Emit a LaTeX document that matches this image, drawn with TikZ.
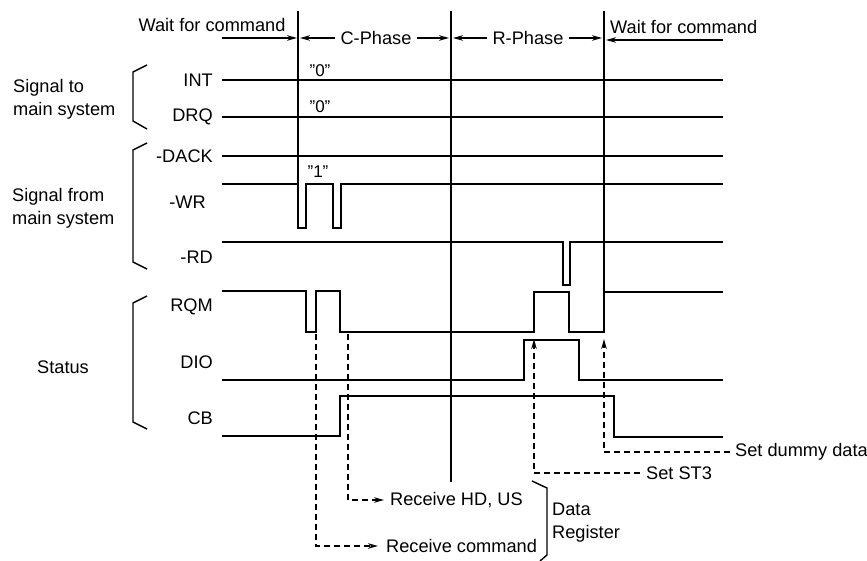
\documentclass[tikz,border=0pt]{standalone}
\usepackage{fontspec}
\setmainfont{Liberation Sans}
\usetikzlibrary{arrows.meta}
\begin{document}
\begin{tikzpicture}[x=1pt,y=-1pt,
  sig/.style={line width=2.8pt, line join=miter},
  vline/.style={line width=1.6pt},
  brk/.style={line width=1.4pt, line join=miter},
  lbl/.style={font=\fontsize{18.2}{23}\selectfont, inner sep=0pt},
  small/.style={font=\fontsize{17}{20}\selectfont, inner sep=0pt},
  tarrow/.style={line width=1.5pt, -{Stealth[length=10pt,width=5.5pt]}},
  darrow/.style={line width=1.4pt, dash pattern=on 6pt off 4pt, -{Stealth[length=10pt,width=5.5pt]}}]
\useasboundingbox (0,0) rectangle (867,561);

% ---- top phase labels
\node[lbl] (wait1) at (212,25) {Wait for command};
\node[lbl] (cph) at (376,38) {C-Phase};
\node[lbl] (rph) at (528,38) {R-Phase};
\node[lbl, anchor=west] (wait2) at (610,27) {Wait for command};
\coordinate (w1s) at (222,38);
\coordinate (v1t) at (298,11);
\coordinate (v2t) at (451,11);
\coordinate (v3t) at (604,11);
\coordinate (w2s) at (723,40);
\draw[tarrow] (w1s) -- (297,38);
\draw[tarrow] (cph.west) ++(-5,0) -- (300,38);
\draw[tarrow] (cph.east) ++(5,0) -- (449,38);
\draw[tarrow] (rph.west) ++(-5,0) -- (453,38);
\draw[tarrow] (rph.east) ++(5,0) -- (602,38);
\draw[tarrow] (w2s) -- (606,40);

% ---- phase boundaries
\draw[vline] (v1t) -- (298,184);
\draw[vline] (v2t) -- (451,482);
\draw[vline] (v3t) -- (604,292);

% ---- group labels and brackets
\node[lbl, align=left, anchor=west] (g1) at (13,99) {Signal to\\main system};
\node[lbl, align=left, anchor=west] (g2) at (12,208) {Signal from\\main system};
\node[lbl, anchor=west] (g3) at (37,367) {Status};
\draw[brk] (147,65) -- (133,72) -- (133,121) -- (147,129);
\draw[brk] (147,143) -- (133,150) -- (133,262) -- (147,269);
\draw[brk] (147,296) -- (133,303) -- (133,422) -- (147,429);

% ---- signal names
\node[lbl, anchor=east] (int) at (213,80) {INT};
\node[lbl, anchor=east] (drq) at (213,117) {DRQ};
\node[lbl, anchor=east] (dack) at (213,156) {-DACK};
\node[lbl, anchor=east] (wr) at (206,202) {-WR};
\node[lbl, anchor=east] (rd) at (213,257) {-RD};
\node[lbl, anchor=east] (rqm) at (213,307) {RQM};
\node[lbl, anchor=east] (dio) at (213,362) {DIO};
\node[lbl, anchor=east] (cb) at (213,418) {CB};

\node[small] (q0a) at (320,71) {”0”};
\node[small] (q0b) at (320,107) {”0”};
\node[small] (q1) at (318,172) {”1”};

% ---- waveforms
\draw[sig] (222,80) -- (723,80);
\draw[sig] (222,117) -- (723,117);
\draw[sig] (222,156) -- (723,156);
\draw[sig] (222,184) -- (298,184) -- (298,228) -- (306,228) -- (306,184) -- (333,184) -- (333,228) -- (341,228) -- (341,184) -- (723,184);
\draw[sig] (222,242) -- (563,242) -- (563,285) -- (570,285) -- (570,242) -- (723,242);
\draw[sig] (222,291) -- (306,291) -- (306,332) -- (316,332) -- (316,291) -- (340,291) -- (340,332) -- (534,332) -- (534,292) -- (569,292) -- (569,332) -- (604,332) -- (604,292) -- (723,292);
\draw[sig] (222,380) -- (524,380) -- (524,340) -- (579,340) -- (579,380) -- (723,380);
\draw[sig] (222,436) -- (340,436) -- (340,396) -- (614,396) -- (614,437) -- (723,437);

% ---- dashed annotations
\node[lbl, anchor=west] (rcmd) at (386,546) {Receive command};
\node[lbl, anchor=west] (rhd) at (390,500) {Receive HD, US};
\node[lbl, anchor=west] (st3) at (646,473) {Set ST3};
\node[lbl, anchor=west] (dummy) at (735,452) {Set dummy data};
\coordinate (a1) at (316,334);
\coordinate (a2) at (348,334);
\coordinate (a3) at (534,339);
\coordinate (a4) at (604,339);
\draw[darrow] (a1) |- ([xshift=-8pt]rcmd.west);
\draw[darrow] (a2) |- ([xshift=-6pt]rhd.west);
\draw[darrow] ([xshift=-6pt]st3.west) -| (a3);
\draw[darrow] ([xshift=-5pt]dummy.west) -| (a4);

% ---- data register bracket
\draw[brk] (532,481) -- (547,488) -- (547,555) -- (540,561);
\node[lbl, align=left, anchor=west] (dreg) at (552,523) {Data\\Register};
\end{tikzpicture}
\end{document}
